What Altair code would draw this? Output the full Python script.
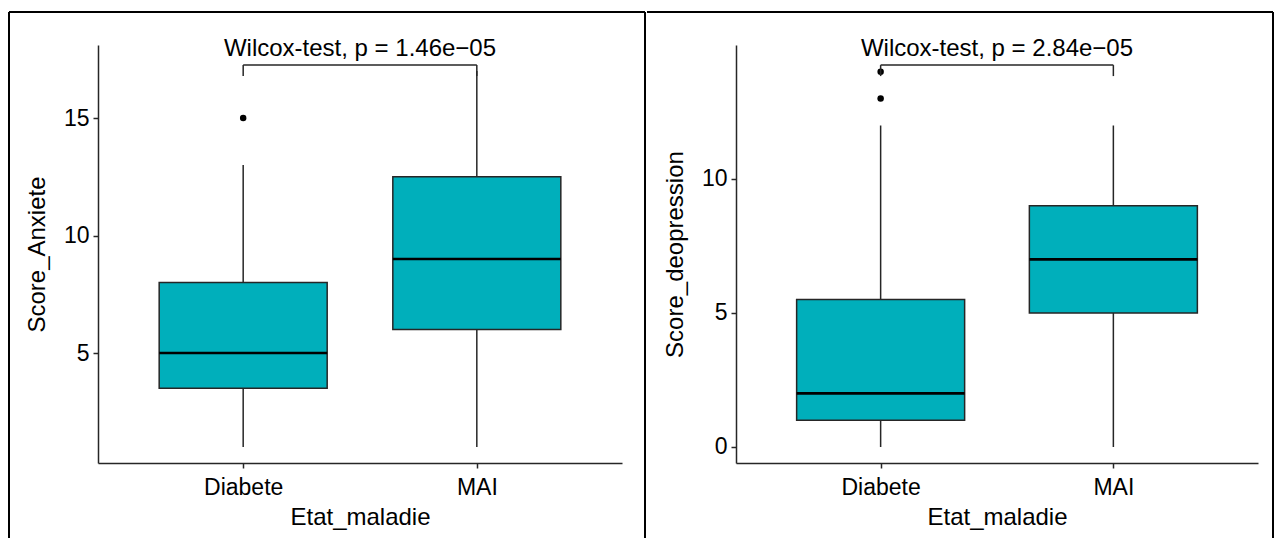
import altair as alt
import pandas as pd

FONT = "Liberation Sans"

# ---- data ----
groups = ["Diabete", "MAI"]
group_pos = [1, 2]

anx_low = [1, 1]
anx_q1 = [3.5, 6]
anx_median = [5, 9]
anx_q3 = [8, 12.5]
anx_high = [13, 17]
anx_out_pos = [1]
anx_out_value = [15]
anx_bracket = 17.26
anx_bracket_tip = 16.79
anx_label = "Wilcox-test, p = 1.46e\u221205"
anx_domain = [0.32, 18.11]
anx_ticks = [5, 10, 15]

dep_low = [0, 0]
dep_q1 = [1, 5]
dep_median = [2, 7]
dep_q3 = [5.5, 9]
dep_high = [12, 12]
dep_out_pos = [1, 1]
dep_out_value = [13, 14]
dep_bracket = 14.25
dep_bracket_tip = 13.84
dep_label = "Wilcox-test, p = 2.84e\u221205"
dep_domain = [-0.6, 15.0]
dep_ticks = [0, 5, 10]

x_domain = [0.4, 2.6]
x_label_expr = "['" + "','".join(groups) + "'][datum.value - 1]"

FILL = "#00AFBB"
LINE = "#262626"
TOP_Y = -33
BOT_Y = 493


def frame_rule(**enc):
    one = pd.DataFrame({"k": [0]})
    return alt.Chart(one).mark_rule(color="#000000", strokeWidth=2).encode(**enc)


def panel(low, q1, med, q3, high, out_pos, out_val, br, br_tip, label,
          ydomain, yticks, ytitle, width, frame_left, frame_right, draw_left):
    height = 418
    stats = pd.DataFrame({"pos": group_pos, "low": low, "q1": q1,
                          "med": med, "q3": q3, "high": high})
    outl = pd.DataFrame({"pos": out_pos, "val": out_val})
    brk = pd.DataFrame({"a": [group_pos[0]], "b": [group_pos[1]],
                        "y": [br], "mid": [sum(group_pos) / len(group_pos)],
                        "label": [label]})
    legs = pd.DataFrame({"pos": group_pos, "y": [br, br], "tip": [br_tip, br_tip]})

    xs = alt.Scale(domain=x_domain, nice=False, zero=False)
    ys = alt.Scale(domain=ydomain, nice=False, zero=False)
    xax = alt.Axis(values=group_pos, labelExpr=x_label_expr, title="Etat_maladie")
    yax = alt.Axis(values=yticks, title=ytitle)

    base = alt.Chart(stats)
    whisk = base.mark_rule(color=LINE, strokeWidth=1.5).encode(
        x=alt.X("pos:Q", scale=xs, axis=xax),
        y=alt.Y("low:Q", scale=ys, axis=yax),
        y2="high:Q",
    )
    box = base.mark_bar(size=168, fill=FILL, stroke=LINE, strokeWidth=1.5, opacity=1).encode(
        x=alt.X("pos:Q", scale=xs),
        y=alt.Y("q1:Q", scale=ys),
        y2="q3:Q",
    )
    median = base.mark_tick(orient="horizontal", size=168, thickness=2.6,
                            color="#000000", opacity=1).encode(
        x=alt.X("pos:Q", scale=xs),
        y=alt.Y("med:Q", scale=ys),
    )
    pts = alt.Chart(outl).mark_circle(size=42, color="#000000", opacity=1).encode(
        x=alt.X("pos:Q", scale=xs),
        y=alt.Y("val:Q", scale=ys),
    )
    bar_h = alt.Chart(brk).mark_rule(color=LINE, strokeWidth=1.5).encode(
        x=alt.X("a:Q", scale=xs), x2="b:Q", y=alt.Y("y:Q", scale=ys))
    bar_v = alt.Chart(legs).mark_rule(color=LINE, strokeWidth=1.5).encode(
        x=alt.X("pos:Q", scale=xs), y=alt.Y("y:Q", scale=ys), y2="tip:Q")
    txt = alt.Chart(brk).mark_text(font=FONT, fontSize=24, color="#000000",
                                   baseline="alphabetic", align="center", dy=-9).encode(
        x=alt.X("mid:Q", scale=xs), y=alt.Y("y:Q", scale=ys), text="label:N")

    frames = [
        frame_rule(x=alt.value(frame_left), x2=alt.value(frame_right), y=alt.value(TOP_Y)),
        frame_rule(x=alt.value(frame_right), y=alt.value(TOP_Y), y2=alt.value(BOT_Y)),
    ]
    if draw_left:
        frames.append(frame_rule(x=alt.value(frame_left), y=alt.value(TOP_Y), y2=alt.value(BOT_Y)))
    return alt.layer(whisk, box, median, pts, bar_h, bar_v, txt, *frames).properties(
        width=width, height=height)


left = panel(anx_low, anx_q1, anx_median, anx_q3, anx_high, anx_out_pos, anx_out_value,
             anx_bracket, anx_bracket_tip, anx_label, anx_domain, anx_ticks,
             "Score_Anxiete", 524, -89, 547, True)

right = panel(dep_low, dep_q1, dep_median, dep_q3, dep_high, dep_out_pos, dep_out_value,
              dep_bracket, dep_bracket_tip, dep_label, dep_domain, dep_ticks,
              "Score_deopression", 522, -89, 537, False)

chart = alt.hconcat(left, right, spacing=0).properties(
    padding={"top": 3, "left": 0, "right": 0, "bottom": 0},
    background="white",
).configure_view(strokeWidth=0).configure_axis(
    grid=False,
    domainColor=LINE,
    domainWidth=1.5,
    tickColor=LINE,
    tickWidth=1.5,
    tickSize=5,
    labelFont=FONT,
    labelFontSize=23,
    labelColor="#000000",
    titleFont=FONT,
    titleFontSize=24,
    titleFontWeight="normal",
    titleColor="#000000",
).configure_axisX(
    labelPadding=8,
    titlePadding=6,
).configure_axisY(
    labelPadding=4,
    titlePadding=14,
)

chart.save("out.html", embed_options={"renderer": "svg", "actions": False})
